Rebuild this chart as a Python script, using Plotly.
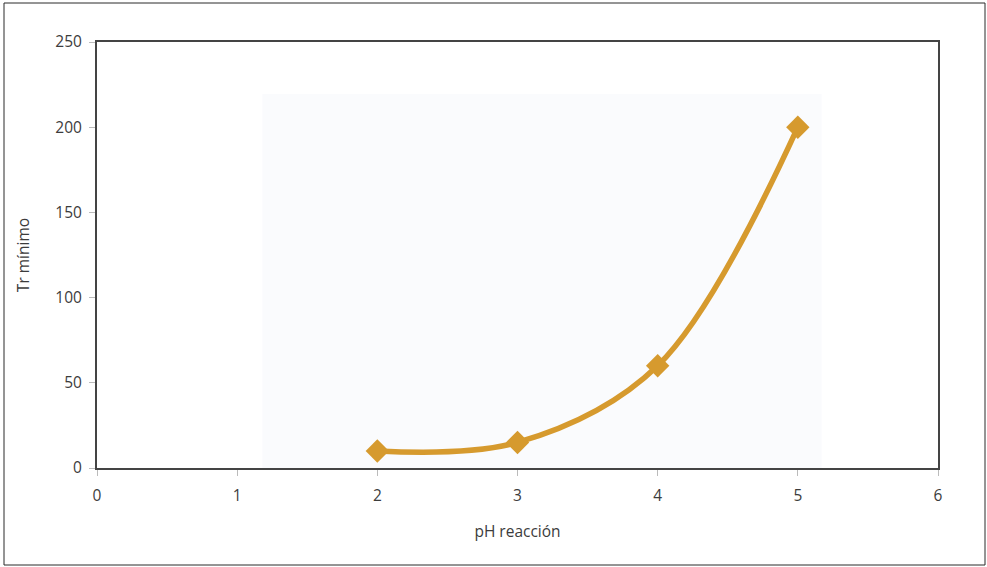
import plotly.graph_objects as go

# pH of the reaction vs. minimum Tr
ph = [2, 3, 4, 5]
tr_min = [10, 15, 60, 200]

x_ticks = [0, 1, 2, 3, 4, 5, 6]
y_ticks = [0, 50, 100, 150, 200, 250]

W, H = 987, 567
L, R, T, B = 97, 49, 42, 99
pw, ph_px = W - L - R, H - T - B

line_color = "#D69A2E"
text_color = "#3c3c3c"
font_family = "Open Sans, Noto Sans, sans-serif"

fig = go.Figure()
fig.add_trace(go.Scatter(
    x=ph, y=tr_min,
    mode="lines+markers",
    line=dict(color=line_color, width=5.5, shape="spline", smoothing=1.0),
    marker=dict(symbol="diamond", size=18, color=line_color),
    showlegend=False,
    hoverinfo="x+y",
))

# faint inner panel behind the curve
fig.add_shape(type="rect", xref="x", yref="y",
              x0=1.18, x1=5.17, y0=0, y1=219.5,
              fillcolor="#FAFBFD", line=dict(width=0), layer="below")

# frame around the whole figure
fig.add_shape(type="rect", xref="paper", yref="paper",
              x0=(4 - L) / pw, x1=(985 - L) / pw,
              y0=-(565 - T - ph_px) / ph_px, y1=1 + (T - 3) / ph_px,
              line=dict(color="#2a2a2a", width=1), fillcolor="rgba(0,0,0,0)")

axis_common = dict(
    showline=True, linecolor="#444444", linewidth=2, mirror=True,
    showgrid=False, zeroline=False,
    ticks="outside", ticklen=6, tickcolor="#BBBBBB", tickwidth=1,
    tickfont=dict(family=font_family, size=15.5, color=text_color),
)

fig.update_xaxes(range=[0, 6], tickvals=x_ticks, ticklabelstandoff=6,
                 title=dict(text="pH reacción", standoff=22,
                            font=dict(family=font_family, size=15.5, color=text_color)),
                 **axis_common)
fig.update_yaxes(range=[0, 250], tickvals=y_ticks, ticklabelstandoff=4,
                 title=dict(text="Tr mínimo", standoff=22,
                            font=dict(family=font_family, size=15.5, color=text_color)),
                 **axis_common)

fig.update_layout(
    width=W, height=H,
    margin=dict(l=L, r=R, t=T, b=B),
    paper_bgcolor="white", plot_bgcolor="white",
    font=dict(family=font_family, color=text_color),
)

fig.write_html("out.html")
